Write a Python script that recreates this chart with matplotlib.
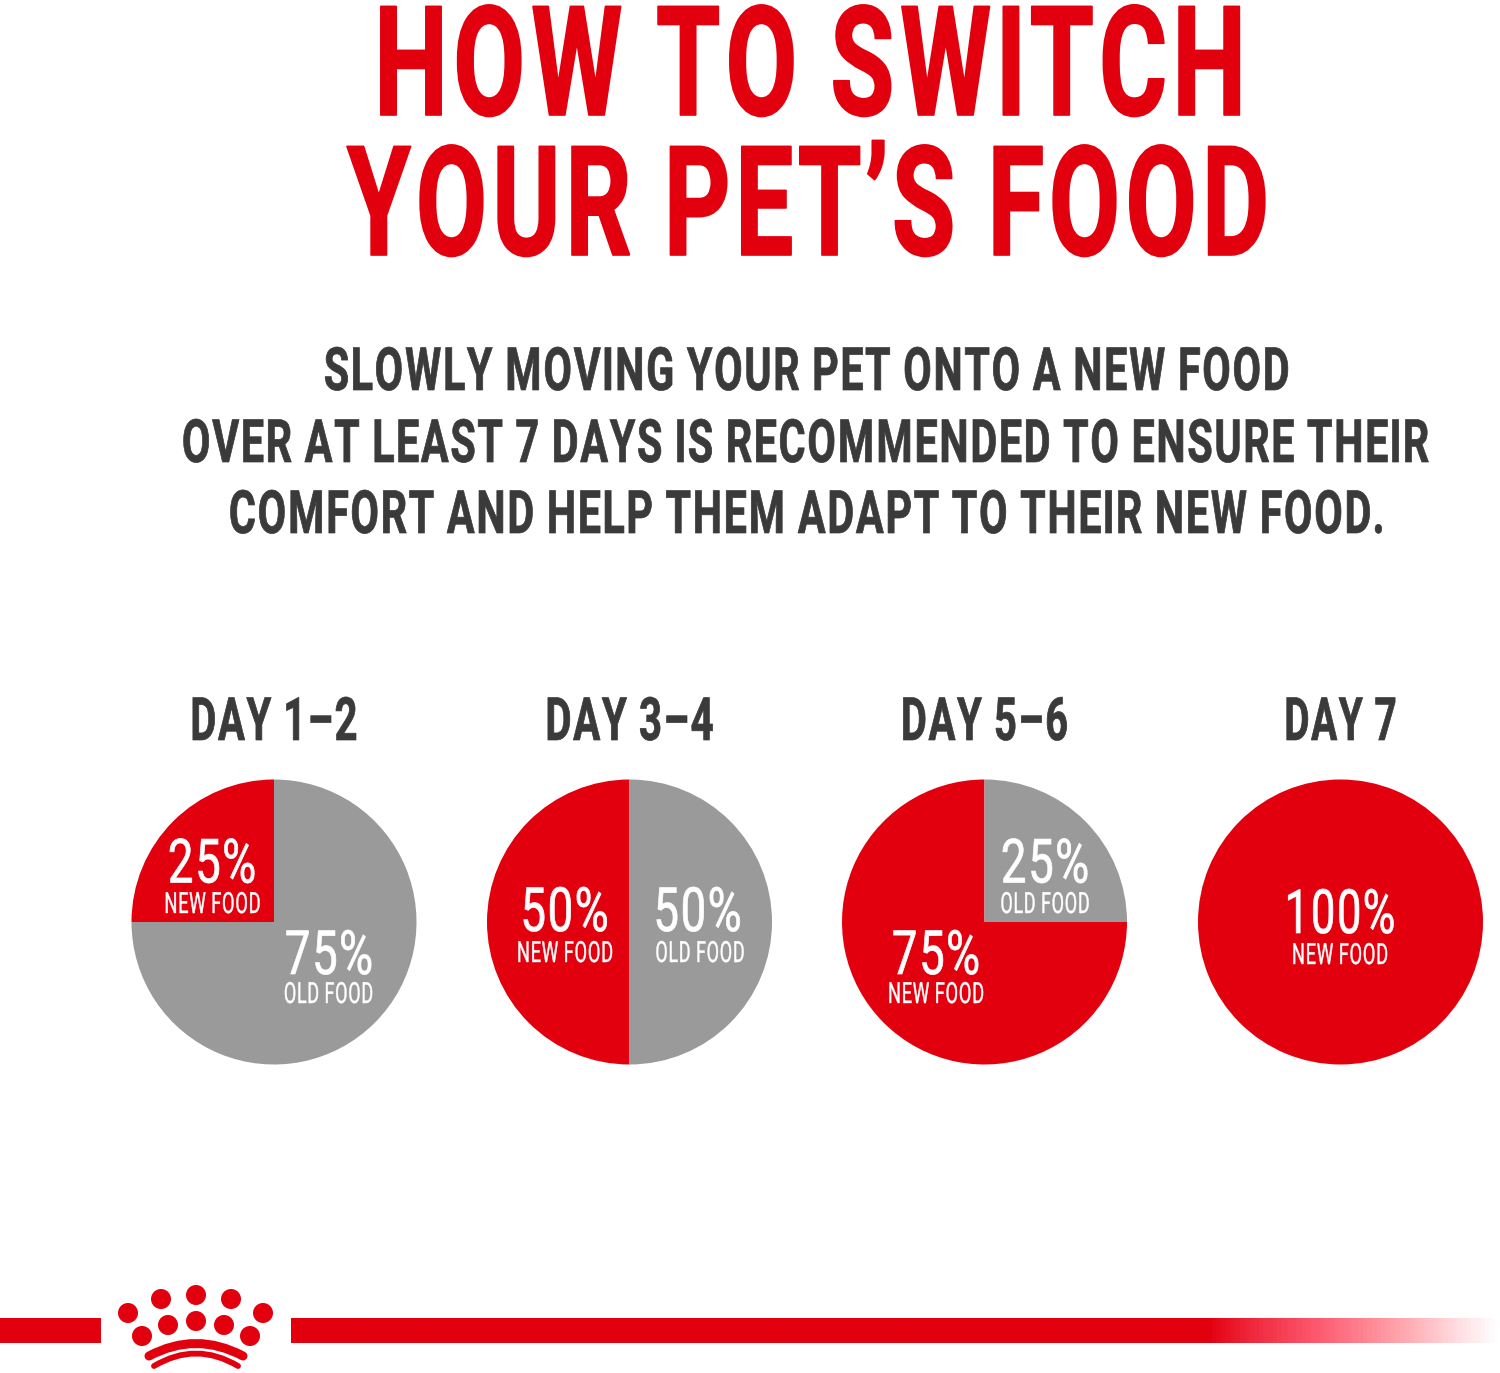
import matplotlib
matplotlib.use("Agg")
import matplotlib.pyplot as plt
import numpy as np
from matplotlib.path import Path
from matplotlib.patches import PathPatch, Circle
from matplotlib.colors import LinearSegmentedColormap
from matplotlib.patheffects import AbstractPathEffect
from matplotlib.text import Text
from matplotlib.transforms import Affine2D, Bbox

W, H = 1500, 1373
RED = "#e2000f"
GREY = "#9a9a9a"
DARK = "#3a3a3a"
FONT = "Roboto"

title_lines = ["HOW TO SWITCH", "YOUR PET\u2019S FOOD"]
body_lines = ["SLOWLY MOVING YOUR PET ONTO A NEW FOOD",
              "OVER AT LEAST 7 DAYS IS RECOMMENDED TO ENSURE THEIR",
              "COMFORT AND HELP THEM ADAPT TO THEIR NEW FOOD."]
day_labels = ["DAY 1\u20132", "DAY 3\u20134", "DAY 5\u20136", "DAY 7"]
new_share = [25, 50, 75, 100]
old_share = [75, 50, 25, 0]
new_label = "NEW FOOD"
old_label = "OLD FOOD"

fig = plt.figure(figsize=(W / 100, H / 100), dpi=100, facecolor="white")
ax = fig.add_axes([0, 0, 1, 1], zorder=3)
ax.set_xlim(0, W)
ax.set_ylim(H, 0)
ax.axis("off")
ax.patch.set_alpha(0)


def narrow_glyphs(tpath, g):
    """Narrow each glyph about its own centre, leaving its advance alone."""
    v = np.array(tpath.vertices, dtype=float)
    codes = tpath.codes
    if codes is None or g == 1:
        return tpath
    starts = list(np.flatnonzero(codes == Path.MOVETO)) + [len(v)]
    groups = []
    for a, b in zip(starts[:-1], starts[1:]):
        real = codes[a:b] != Path.CLOSEPOLY
        x0, x1 = v[a:b][real, 0].min(), v[a:b][real, 0].max()
        if groups and x0 < groups[-1][3]:
            groups[-1][1] = b
            groups[-1][2] = min(groups[-1][2], x0)
            groups[-1][3] = max(groups[-1][3], x1)
        else:
            groups.append([a, b, x0, x1])
    for a, b, x0, x1 in groups:
        c = (x0 + x1) / 2
        v[a:b, 0] = c + (v[a:b, 0] - c) * g
    return Path(v, codes)


class Squeeze(AbstractPathEffect):
    """Narrow the glyph outlines horizontally about a display x position."""

    def __init__(self, sx, cx, bold=0.0, g=1.0):
        super().__init__()
        self.sx, self.cx, self.bold, self.g = sx, cx, bold, g

    def draw_path(self, renderer, gc, tpath, affine, rgbFace=None):
        tr = affine + Affine2D().translate(-self.cx, 0).scale(self.sx, 1).translate(self.cx, 0)
        gc0 = renderer.new_gc()
        gc0.copy_properties(gc)
        gc0.set_linewidth(self.bold)
        gc0.set_foreground(rgbFace)
        renderer.draw_path(gc0, narrow_glyphs(tpath, self.g), tr, rgbFace)
        gc0.restore()


class NarrowText(Text):
    """Text whose drawn width is a set number of pixels."""

    def __init__(self, x, y, s, target, bold=0.0, g=1.0, **kw):
        super().__init__(x, y, s, ha="center", va="baseline", **kw)
        self.target, self.bold, self.g, self._sx = target, bold, g, None

    def _setup(self, renderer):
        if self._sx is None:
            self.set_path_effects([])
            bb = super().get_window_extent(renderer)
            self._sx = self.target / bb.width
            cx = self.get_transform().transform((self.get_position()[0], 0))[0]
            self._cx = cx
            self.set_path_effects([Squeeze(self._sx, cx, self.bold, self.g)])

    def draw(self, renderer):
        self._setup(renderer)
        super().draw(renderer)

    def get_window_extent(self, renderer=None, dpi=None):
        r = renderer or self.figure.canvas.get_renderer()
        self._setup(r)
        bb = super().get_window_extent(r, dpi)
        return Bbox.from_extents(self._cx + (bb.x0 - self._cx) * self._sx, bb.y0,
                                 self._cx + (bb.x1 - self._cx) * self._sx, bb.y1)


def put(s, cx, base, size, color, target, weight="bold", bold=0.0, g=1.0):
    t = NarrowText(cx, base, s, target, bold=bold, g=g, fontsize=size, color=color,
                   family=FONT, fontweight=weight)
    ax.add_artist(t)
    return t


for s, cx, base, w in zip(title_lines, [810, 808], [115, 255], [877, 927]):
    put(s, cx, base, 110, RED, w, bold=1.2, g=0.93)
for s, cx, base, w in zip(body_lines, [807, 806, 807], [390, 462, 533], [968, 1250, 1158]):
    put(s, cx, base, 43, DARK, w, bold=0.5, g=0.94)

centers = [274, 629.5, 984.5, 1340.5]
CY, R = 922, 142.5
for d, c, w, n, o in zip(day_labels, centers, [169, 170, 169, 114], new_share, old_share):
    put(d, c, 740, 43, DARK, w, bold=0.5, g=0.94)
    a = fig.add_axes([(c - R) / W, 1 - (CY + R) / H, 2 * R / W, 2 * R / H], zorder=1)
    vals = [n, o] if o else [n]
    a.pie(vals, colors=[RED, GREY][:len(vals)], startangle=90, radius=1, counterclock=True)
    a.set_xlim(-1, 1)
    a.set_ylim(-1, 1)

pct_pos = [
    [(212, 882.5, 913, 212.5), (329, 974, 1003, 328.5)],
    [(564.5, 931, 962, 565), (697.5, 931, 962, 700)],
    [(936, 974, 1003, 936), (1045, 882.5, 913, 1045)],
    [(1340, 933, 964, 1340), None],
]
for pos, n, o in zip(pct_pos, new_share, old_share):
    for p, v, lab in zip(pos, [n, o], [new_label, old_label]):
        if p is None:
            continue
        put(f"{v}%", p[0], p[1], 44, "white", 112 if v == 100 else 90, weight="normal",
            bold=0.5, g=0.94)
        put(lab, p[3], p[2], 21, "white", 97 if lab == new_label else 90, weight="normal",
            bold=0.3, g=0.94)

# footer rule
ax.fill_between([0, 101], 1318, 1343, color=RED, lw=0)
cmap = LinearSegmentedColormap.from_list(
    "fade", [(0, RED), (0.76, RED), (0.79, "#ee2236"), (0.851, "#fd5a70"),
             (0.917, "#ffa2aa"), (0.97, "#ffe0e3"), (1, "#ffffff")])
ax.imshow(np.linspace(0, 1, 1200)[None, :], extent=(291, 1500, 1343, 1318), cmap=cmap,
          aspect="auto", zorder=2)
ax.set_xlim(0, W)
ax.set_ylim(H, 0)

# crown
for x, y in [(128, 1313), (161, 1299), (196, 1295), (231, 1299), (263, 1313),
             (142, 1336), (168, 1325), (196, 1321), (224, 1325), (250, 1336)]:
    ax.add_patch(Circle((x, y), 10, color=RED, lw=0))
for p0, p1, p2, lw in [((149, 1356), (196, 1331), (243, 1356), 6.5),
                       ((154, 1366), (196, 1341), (238, 1366), 4.2)]:
    ax.add_patch(PathPatch(Path([p0, p1, p2], [Path.MOVETO, Path.CURVE3, Path.CURVE3]),
                           fc="none", ec=RED, lw=lw, capstyle="round"))

fig.savefig("out.png", dpi=100, facecolor="white")
